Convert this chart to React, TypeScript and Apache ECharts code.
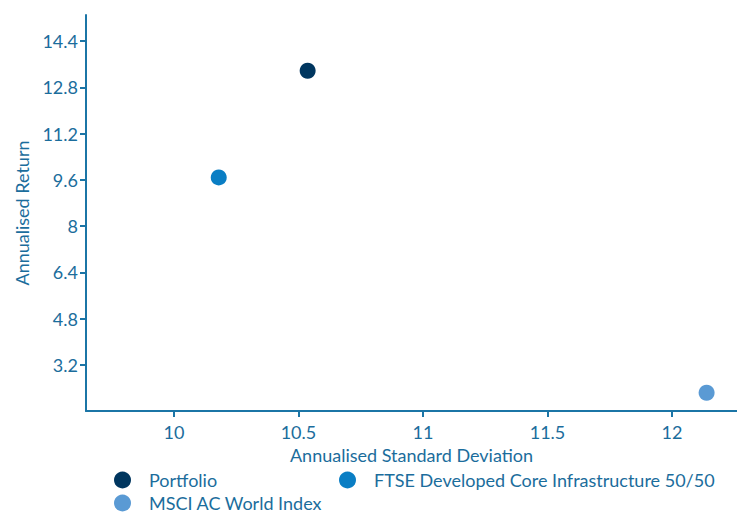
import React, { useEffect, useRef } from "react";
import * as echarts from "echarts";

const seriesNames = ["Portfolio", "FTSE Developed Core Infrastructure 50/50", "MSCI AC World Index"];
const seriesColors = ["#00365f", "#0a7ec4", "#5a9ad4"];
const stdDev = [10.537, 10.18, 12.139];
const returns = [13.37, 9.68, 2.23];
const xTicks = [10, 10.5, 11, 11.5, 12];
const yTicks = [3.2, 4.8, 6.4, 8, 9.6, 11.2, 12.8, 14.4];

const axisColor = "#1b75a6";
const textColor = "#1b6d9c";
const font = "Lato, 'Open Sans', sans-serif";
const fs = 18;

const legendAt = (name: string, left: number, top: number) => ({
  data: [name],
  orient: "horizontal",
  left,
  top,
  padding: 0,
  itemWidth: 17,
  itemHeight: 17,
  icon: "circle",
  textStyle: { color: textColor, fontSize: fs, fontFamily: font, padding: [0, 0, 0, 13] },
});

export default function App() {
  const ref = useRef<HTMLDivElement>(null);
  useEffect(() => {
    if (!ref.current) return;
    const chart = echarts.init(ref.current, undefined, { renderer: "svg" });
    chart.setOption({
      animation: false,
      backgroundColor: "#ffffff",
      textStyle: { fontFamily: font },
      grid: { left: 86, top: 15, right: 0, bottom: 102, containLabel: false },
      xAxis: {
        type: "value",
        min: 9.647,
        max: 12.261,
        name: "Annualised Standard Deviation",
        nameLocation: "middle",
        nameGap: 25,
        nameTextStyle: { color: textColor, fontSize: fs, fontFamily: font },
        splitLine: { show: false },
        axisLine: { show: true, lineStyle: { color: axisColor, width: 2 } },
        axisTick: { show: true, customValues: xTicks, length: 6, lineStyle: { color: axisColor, width: 2 } },
        axisLabel: {
          customValues: xTicks,
          color: textColor,
          fontSize: fs,
          fontFamily: font,
          margin: 12,
        },
      },
      yAxis: {
        type: "value",
        min: 1.6,
        max: 15.3,
        name: "Annualised Return",
        nameLocation: "middle",
        nameGap: 55,
        nameTextStyle: { color: textColor, fontSize: fs, fontFamily: font },
        splitLine: { show: false },
        axisLine: { show: true, lineStyle: { color: axisColor, width: 2 } },
        axisTick: { show: true, customValues: yTicks, length: 6, lineStyle: { color: axisColor, width: 2 } },
        axisLabel: {
          customValues: yTicks,
          color: textColor,
          fontSize: fs,
          fontFamily: font,
          margin: 8,
        },
      },
      legend: [
        legendAt(seriesNames[0], 114, 471),
        legendAt(seriesNames[1], 339, 471),
        legendAt(seriesNames[2], 114, 494),
      ],
      series: seriesNames.map((name, i) => ({
        type: "scatter",
        name,
        symbol: "circle",
        symbolSize: 16,
        itemStyle: { color: seriesColors[i], opacity: 1 },
        data: [[stdDev[i], returns[i]]],
      })),
    });
    return () => chart.dispose();
  }, []);
  return <div ref={ref} style={{ position: "fixed", left: 0, top: 0, width: 737, height: 513 }} />;
}
